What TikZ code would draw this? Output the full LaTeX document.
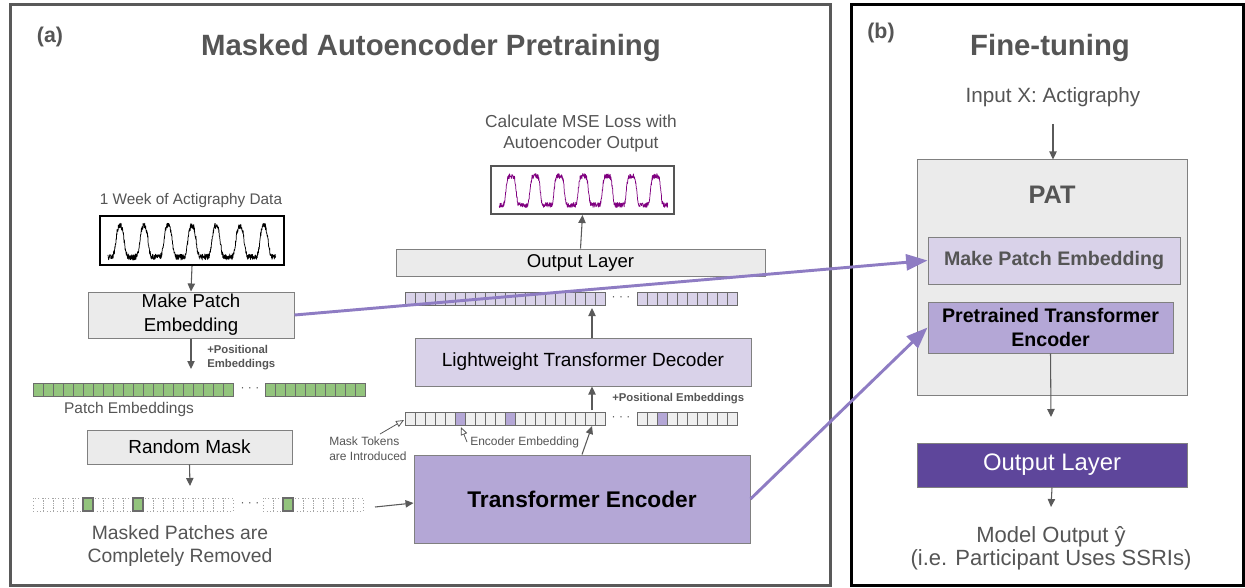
\documentclass[tikz,border=0pt]{standalone}
\usepackage{fontspec}
\setmainfont{Liberation Sans}
\usetikzlibrary{arrows.meta}
\definecolor{txtgray}{HTML}{555555}
\definecolor{arrgray}{HTML}{5A5A5A}
\definecolor{panelgray}{HTML}{595959}
\definecolor{boxgray}{HTML}{EBEBEB}
\definecolor{edgegray}{HTML}{808080}
\definecolor{celledge}{HTML}{6B6B6B}
\definecolor{lav}{HTML}{D9D2E9}
\definecolor{midpur}{HTML}{B4A7D6}
\definecolor{darkpur}{HTML}{5E469B}
\definecolor{linkpur}{HTML}{8E7CC3}
\definecolor{cellgreen}{HTML}{93C47D}
\definecolor{wavepur}{HTML}{800080}
\definecolor{cellgray}{HTML}{EFEFEF}
\newcommand{\fsz}[2]{\fontsize{#1}{#2}\selectfont}
\begin{document}
\begin{tikzpicture}[x=0.75pt,y=-0.75pt,
  txt/.style={inner sep=0pt, text=txtgray},
  box/.style={draw=edgegray, line width=0.75pt, fill=boxgray, inner sep=0pt, align=center, text=black},
  arr/.style={draw=arrgray, line width=0.8pt, -{Triangle[length=6pt,width=5.5pt]}},
  openarr/.style={draw=txtgray, line width=0.6pt, -{Triangle[open,length=6pt,width=5pt]}},
  link/.style={draw=linkpur, line width=2.2pt, -{Triangle[length=16pt,width=12pt]}},
  cell/.style={draw=celledge, line width=0.5pt},
  dcell/.style={draw=gray!70, dotted, line width=0.5pt},
  dotsn/.style={inner sep=0pt, text=txtgray, font=\fsz{9}{10}},
]
\useasboundingbox (0,0) rectangle (1245,588);
\fill[white] (0,0) rectangle (1245,588);
% panel frames
\draw[draw=panelgray, line width=2.25pt] (10,5) rectangle (830,585);
\draw[draw=black, line width=2.25pt] (851,5) rectangle (1243,585);

% ---------- panel (b)
\node[txt, font=\bfseries\fsz{16}{19}] (lb) at (881,33) {(b)};
\node[txt, font=\bfseries\fsz{22}{26}] (tb) at (1050,48) {Fine-tuning};
\node[txt, font=\fsz{15.5}{18}] (inx) at (1053,97) {Input X: Actigraphy};
\node[box, minimum width=202.5pt, minimum height=176.25pt] (pat) at (1052,277.5) {};
\node[txt, font=\bfseries\fsz{19}{22}] (patl) at (1052,195) {PAT};
\node[box, fill=lav, minimum width=189pt, minimum height=35.25pt, text=txtgray, font=\bfseries\fsz{14.7}{18}] (bmpe) at (1054,260.5) {Make Patch Embedding};
\node[box, fill=midpur, minimum width=183.75pt, minimum height=38.25pt, font=\bfseries\fsz{14.7}{18.5}] (bpte) at (1050.5,327.5) {Pretrained Transformer\\Encoder};
\node[box, fill=darkpur, text=white, minimum width=202.5pt, minimum height=33pt, font=\fsz{17.9}{20}] (bout) at (1052,465) {Output Layer};
\node[txt, font=\fsz{16.5}{17}, align=center] (mout) at (1051,548) {Model Output ŷ\\(i.e. Participant Uses SSRIs)};
\coordinate (inxbot) at (1053,124);
\coordinate (bouttip) at (1051,417);
\coordinate (mouttip) at (1051,507);
\draw[arr] (inxbot) -- (pat.north -| inxbot);
\draw[arr] (bpte.south) -- (bouttip);
\draw[arr] (bout.south) -- (mouttip);

% ---------- panel (a)
\node[txt, font=\bfseries\fsz{16}{19}] (la) at (50,37) {(a)};
\node[txt, font=\bfseries\fsz{22}{26}] (ta) at (431,48) {Masked Autoencoder Pretraining};

\node[txt, font=\fsz{11.5}{14}] (wk) at (191,201) {1 Week of Actigraphy Data};
\node[draw=black, line width=1.5pt, minimum width=138pt, minimum height=36.75pt, inner sep=0pt] (actig) at (192,240.5) {};
\pgfmathsetseed{7}
\draw[black, line width=0.55pt, line join=round] plot[domain=0:7, samples=700]
  ({108+24*\x},{257-31*exp(-min(((abs(mod(\x,1)-0.5)/0.2)^3),20))+6*(rnd-0.5)});

\node[box, minimum width=154.5pt, minimum height=34.5pt, font=\fsz{14}{18}] (mpe) at (191,315) {Make Patch\\Embedding};
\node[txt, font=\bfseries\fsz{8.5}{10.5}, anchor=west, align=left] (pos1) at (207,358) {+Positional\\Embeddings};
\coordinate (grtop) at (191,369);
\draw[arr] (actig.south) -- (mpe.north);
\draw[arr] (mpe.south) -- (grtop);

% green patch row
\foreach \i in {0,...,19} \draw[cell, fill=cellgreen] ({33+10*\i},383) rectangle ++(10,13);
\foreach \i in {0,...,9} \draw[cell, fill=cellgreen] ({265+10*\i},383) rectangle ++(10,13);
\node[dotsn] (gdots) at (250,390) {· · ·};
\node[txt, font=\fsz{11.6}{14}] (pe) at (129,409) {Patch Embeddings};

\node[box, minimum width=153.75pt, minimum height=25.5pt, font=\fsz{14.2}{17}] (rmask) at (189.5,447) {Random Mask};
\coordinate (mrtop) at (190,486);
\draw[arr] (rmask.south) -- (mrtop);

% masked row
\foreach \i in {0,...,19} \draw[dcell] ({33+10*\i},498) rectangle ++(10,13);
\foreach \i in {0,...,9} \draw[dcell] ({263+10*\i},498) rectangle ++(10,13);
\foreach \i in {5,10} \draw[cell, line width=0.8pt, fill=cellgreen] ({33+10*\i},498) rectangle ++(10,13);
\draw[cell, line width=0.8pt, fill=cellgreen] (283,498) rectangle ++(10,13);
\node[dotsn] (mdots) at (250,505) {· · ·};
\node[txt, font=\fsz{14.5}{17.25}, align=center] (mp) at (180,546) {Masked Patches are\\Completely Removed};

% encoder
\node[box, fill=midpur, minimum width=252pt, minimum height=66pt, font=\bfseries\fsz{17}{20}] (enc) at (582,499) {Transformer Encoder};
\coordinate (mrend) at (375,507);
\draw[arr] (mrend) -- ([yshift=-3pt]enc.west);

% embedding row (decoder input)
\foreach \i in {0,...,19} \draw[cell, fill=cellgray] ({405+10*\i},412) rectangle ++(10,13);
\foreach \i in {5,10} \draw[cell, fill=midpur] ({405+10*\i},412) rectangle ++(10,13);
\foreach \i in {0,...,9} \draw[cell, fill=cellgray] ({637+10*\i},412) rectangle ++(10,13);
\draw[cell, fill=midpur] (657,412) rectangle ++(10,13);
\node[dotsn] (edots) at (621,419) {· · ·};
\node[txt, font=\fsz{9}{11.25}, anchor=west, align=left] (mt) at (329,449) {Mask Tokens\\are Introduced};
\node[txt, font=\fsz{9}{11}, anchor=west] (ee) at (470,442) {Encoder Embedding};
\node[txt, font=\bfseries\fsz{8.5}{10}, anchor=west] (pos2) at (612,399) {+Positional Embeddings};
\coordinate (mtA) at (380,434);
\coordinate (embleft) at (404,420);
\coordinate (eeA) at (467,442);
\coordinate (eeB) at (461,427);
\draw[openarr] (mtA) -- (embleft);
\draw[openarr] (eeA) -- (eeB);
\coordinate (embtip) at (592,426);
\coordinate (embup) at (592,410);
\draw[arr] (enc.north) -- (embtip);

% decoder
\node[box, fill=lav, minimum width=252pt, minimum height=36pt, font=\fsz{14.3}{17}] (dec) at (583,362) {Lightweight Transformer Decoder};
\draw[arr] (embup) -- (dec.south -| embup);
\coordinate (outrowtip) at (592,308);
\draw[arr] (dec.north -| embup) -- (outrowtip);

% decoder output row
\foreach \i in {0,...,19} \draw[cell, fill=lav] ({405+10*\i},292) rectangle ++(10,13);
\foreach \i in {0,...,9} \draw[cell, fill=lav] ({637+10*\i},292) rectangle ++(10,13);
\node[dotsn] (odots) at (621,299) {· · ·};

% output layer and MSE
\node[box, minimum width=276.75pt, minimum height=20.25pt, font=\fsz{13.9}{16}] (outl) at (580.5,262.5) {Output Layer};
\node[draw=txtgray, line width=1.5pt, minimum width=137.25pt, minimum height=36pt, inner sep=0pt] (mse) at (582.5,190) {};
\draw[wavepur, line width=0.55pt, line join=round] plot[domain=0:7, samples=700]
  ({499+24.1*\x},{205-29*exp(-min(((abs(mod(\x,1)-0.5)/0.23)^5),20))+5*(rnd-0.5)});
\node[txt, font=\fsz{13}{15.75}, align=center] (calc) at (581,134) {Calculate MSE Loss with\\Autoencoder Output};
\draw[arr] (outl.north) -- (mse.south);

% purple links
\draw[link] (mpe.east) -- (bmpe.west);
\draw[link] (enc.east) -- (bpte.west);
\end{tikzpicture}
\end{document}
